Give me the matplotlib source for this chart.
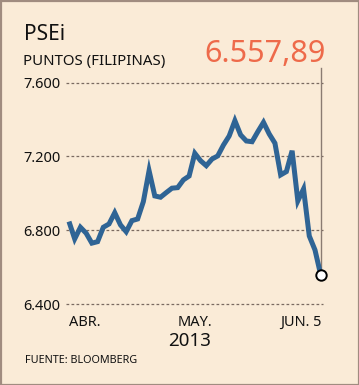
import matplotlib.pyplot as plt
from matplotlib.transforms import ScaledTranslation

# PSEi daily close, April 2013 to June 5 2013
values = [6847, 6753, 6816, 6784, 6730, 6738, 6816, 6834, 6895, 6829,
          6792, 6852, 6861, 6955, 7123, 6986, 6979, 7004, 7028, 7031,
          7073, 7094, 7217, 7177, 7150, 7186, 7203, 7262, 7311, 7394,
          7317, 7284, 7280, 7334, 7385, 7322, 7272, 7100, 7118, 7231,
          6959, 7024, 6769, 6693, 6557.89]
y_ticks = [6400, 6800, 7200, 7600]
y_tick_labels = ["6.400", "6.800", "7.200", "7.600"]
month_pos = [2.7, 22.0, 40.6]
month_labels = ["ABR.", "MAY.", "JUN. 5"]

W, H = 359, 385
bg = "#FAEBD7"
blue = "#2F6495"

plt.rcParams['font.family'] = ['Noto Sans', 'DejaVu Sans']
fig = plt.figure(figsize=(W / 100, H / 100), dpi=100, facecolor=bg)


def fy(py):
    # pixel row from the top -> figure fraction
    return 1 - py / H


# border
fig.patches.append(plt.Rectangle((0.5 / W, 0.5 / H), 1 - 1 / W, 1 - 1 / H,
                                 transform=fig.transFigure, fill=False,
                                 edgecolor="#A08C80", linewidth=1.6))

ax = fig.add_axes([66 / W, fy(304), (323 - 66) / W, (304 - 82.7) / H])
ax.set_facecolor(bg)
for s in ax.spines.values():
    s.set_visible(False)

x = list(range(len(values)))
ax.set_xlim(-0.52, 44.4)
ax.set_ylim(6400, 7600)

for t in y_ticks:
    ax.axhline(t, color="#7A6A60", linewidth=0.9, linestyle=(0, (2.2, 1.8)),
               zorder=1, clip_on=False)

# vertical marker line from the last point up
ax.plot([x[-1], x[-1]], [values[-1], 7680], color="#8A7B72", linewidth=1.0,
        clip_on=False, zorder=2)
ax.plot(x, values, color=blue, linewidth=3.6, solid_joinstyle="miter",
        solid_capstyle="butt", zorder=3, clip_on=False)
ax.plot(x[-1], values[-1], "o", markersize=7.5, markerfacecolor="white",
        markeredgecolor="black", markeredgewidth=1.4, clip_on=False, zorder=4)

ax.set_yticks(y_ticks)
ax.set_yticklabels(y_tick_labels, fontsize=10.5, color="#111111")
ax.tick_params(axis="y", length=0, pad=4)
ax.set_xticks([])

# month labels, baseline ~22 px under the 6.400 line
below = ax.get_xaxis_transform() + ScaledTranslation(0, -0.22, fig.dpi_scale_trans)
for p, lab in zip(month_pos, month_labels):
    ax.text(p, 0, lab, ha="center", va="baseline", fontsize=10.5,
            color="#111111", transform=below)

fig.text(190 / W, fy(346), "2013", ha="center", va="baseline", fontsize=13.5,
         color="#111111")
fig.text(24 / W, fy(40), "PSEi", ha="left", va="baseline", fontsize=15,
         color="#111111")
fig.text(23 / W, fy(65), "PUNTOS (FILIPINAS)", ha="left", va="baseline",
         fontsize=10.8, color="#111111")
fig.text(326 / W, fy(61.5), "6.557,89", ha="right", va="baseline",
         fontsize=22, color="#EE6A4A")
fig.text(25 / W, fy(363), "FUENTE: BLOOMBERG", ha="left", va="baseline",
         fontsize=7.8, color="#111111")

fig.savefig("out.png", dpi=100, facecolor=bg)
